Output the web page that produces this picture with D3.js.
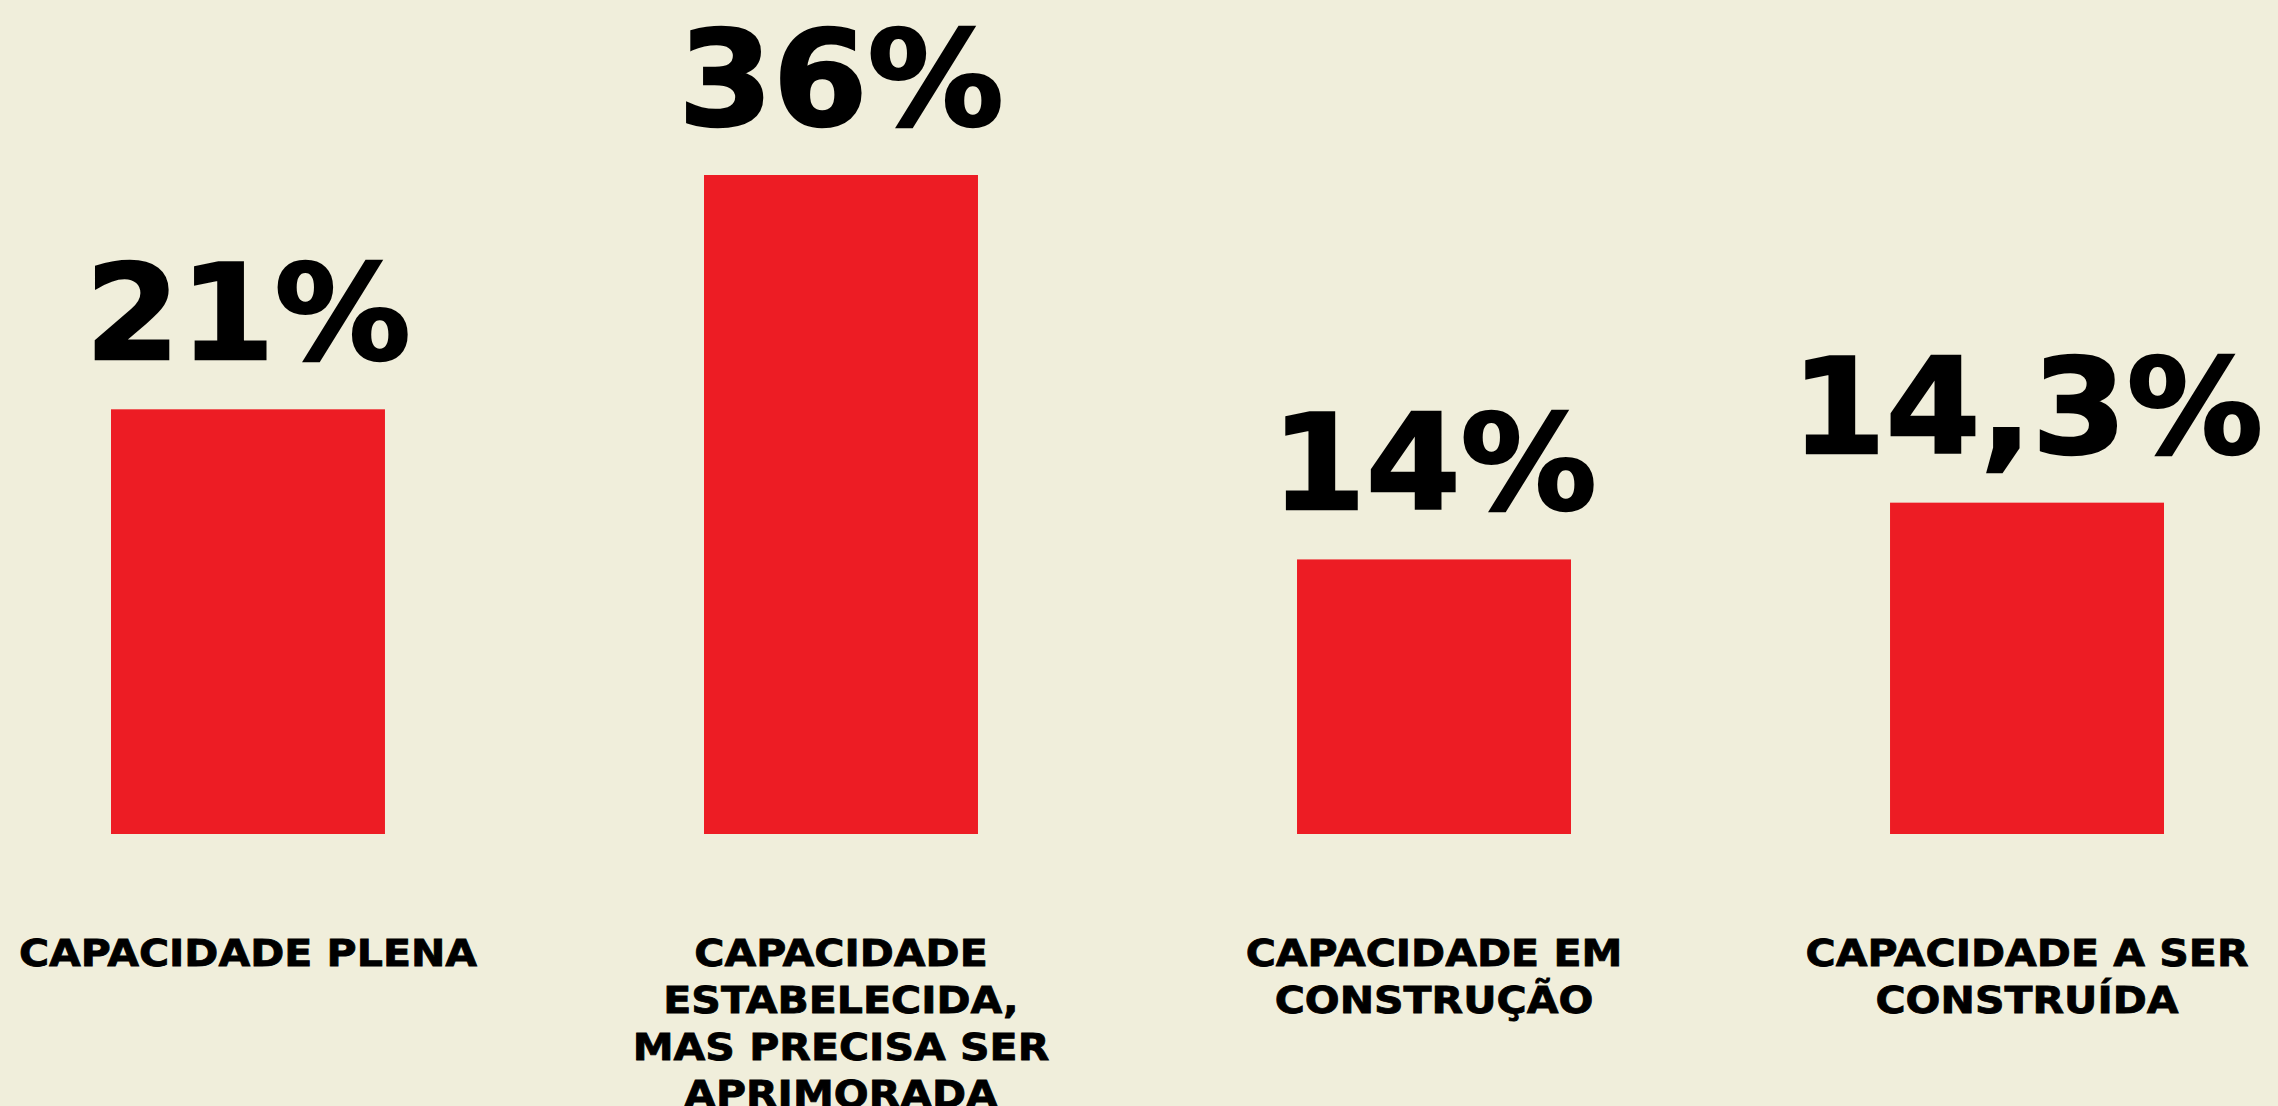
<!DOCTYPE html>
<html>
<head>
<meta charset="utf-8">
<script src="https://cdn.jsdelivr.net/npm/d3@7"></script>
<style>
  html, body { margin: 0; padding: 0; background: #f0eedb; overflow: hidden; }
  svg { display: block; }
  .pct { font-family: "DejaVu Sans", sans-serif; font-weight: bold; font-size: 132px; fill: #000; stroke: #000; stroke-width: 2.5px; }
  .cat { font-family: "DejaVu Sans", sans-serif; font-weight: bold; font-size: 37px; fill: #000; stroke: #000; stroke-width: 0.8px; }
</style>
</head>
<body>
<svg id="chart"></svg>
<script>
// category labels, one entry per line
var categories = [
  ["CAPACIDADE PLENA"],
  ["CAPACIDADE", "ESTABELECIDA,", "MAS PRECISA SER", "APRIMORADA"],
  ["CAPACIDADE EM", "CONSTRUÇÃO"],
  ["CAPACIDADE A SER", "CONSTRUÍDA"]
];
// printed shares (%)
var values = [21, 36, 14, 14.3];
// bar lengths as drawn in the picture (same % units, not to scale with the labels)
var barValues = [23.2, 36, 15.0, 18.1];

var width = 2278,
  height = 1106,
  baseline = 834;

var ptBR = d3.formatLocale({ decimal: ",", thousands: ".", grouping: [3], currency: ["R$", ""] });
var fmt = ptBR.format(".3~r");

var x = d3.scaleBand()
  .domain(d3.range(values.length))
  .range([111, 2164])
  .paddingInner(0.538)
  .paddingOuter(0);

var y = d3.scaleLinear()
  .domain([0, 36])
  .range([baseline, 175]);

var svg = d3.select("#chart")
  .attr("width", width)
  .attr("height", height);

svg.append("rect")
  .attr("width", width)
  .attr("height", height)
  .attr("fill", "#f0eedb");

var data = values.map(function(v, i) {
  return { i: i, value: v, bar: barValues[i], lines: categories[i] };
});

function cx(d) { return x(d.i) + x.bandwidth() / 2; }

svg.append("g").selectAll("rect")
    .data(data)
  .enter().append("rect")
    .attr("x", function(d) { return x(d.i); })
    .attr("y", function(d) { return y(d.bar); })
    .attr("width", x.bandwidth())
    .attr("height", function(d) { return y(0) - y(d.bar); })
    .attr("fill", "#ed1c24");

svg.append("g").selectAll("text")
    .data(data)
  .enter().append("text")
    .attr("class", "pct")
    .attr("text-anchor", "middle")
    .attr("transform", function(d) { return "translate(" + cx(d) + "," + (y(d.bar) - 50) + ") scale(1.03,1)"; })
    .text(function(d) { return fmt(d.value) + "%"; });

var cats = svg.append("g").selectAll("text")
    .data(data)
  .enter().append("text")
    .attr("class", "cat")
    .attr("text-anchor", "middle")
    .attr("transform", function(d) { return "translate(" + cx(d) + ",966) scale(1.11,1)"; });

cats.selectAll("tspan")
    .data(function(d) { return d.lines; })
  .enter().append("tspan")
    .attr("x", 0)
    .attr("y", function(d, j) { return j * 47; })
    .text(function(d) { return d; });
</script>
</body>
</html>
